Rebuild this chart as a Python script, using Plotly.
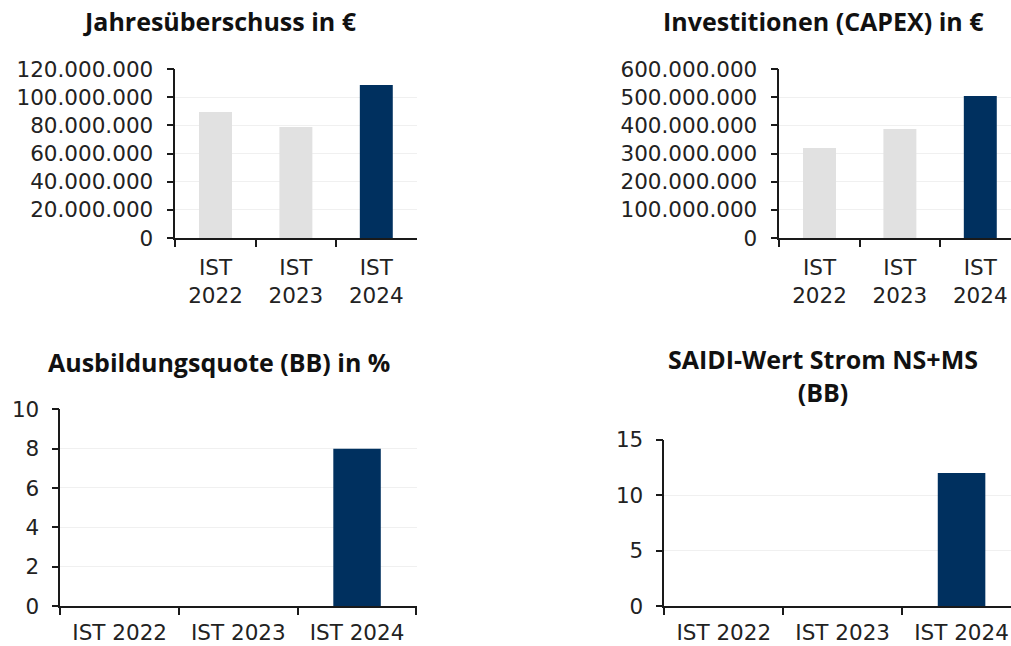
import plotly.graph_objects as go

W, H = 1011, 646

cats_top = ["IST<br>2022", "IST<br>2023", "IST<br>2024"]
cats_bottom = ["IST 2022", "IST 2023", "IST 2024"]

jahresueberschuss = [89.5e6, 78.8e6, 108.6e6]
capex = [319.5e6, 387e6, 504e6]
ausbildungsquote = [None, None, 8]
saidi = [None, None, 12]

titles = ["Jahresüberschuss in €", "Investitionen (CAPEX) in €",
          "Ausbildungsquote (BB) in %", "SAIDI-Wert Strom NS+MS<br>(BB)"]

LIGHT = "#E1E1E1"
DARK = "#00305F"
bar_colors = [LIGHT, LIGHT, DARK]

TICKFONT = dict(family="DejaVu Sans", size=21.5, color="#222222")
TITLEFONT = dict(family="Open Sans", size=25, color="#111111")


def px(x):
    return x / W


def py(y):
    return 1 - y / H


fig = go.Figure()

panels = [
    dict(x0=175.3, x1=416.5, y0=69, y1=238, cats=cats_top, vals=jahresueberschuss,
         bw=0.41, yr=[0, 120e6], dt=20e6, cw=80.4, ystand=9, xstand=9),
    dict(x0=779.3, x1=W, y0=69, y1=238, cats=cats_top, vals=capex,
         bw=0.41, yr=[0, 600e6], dt=100e6, cw=80.4, ystand=9, xstand=9),
    dict(x0=60.3, x1=416.5, y0=409.3, y1=606, cats=cats_bottom, vals=ausbildungsquote,
         bw=0.40, yr=[0, 10], dt=2, cw=118.7, ystand=8, xstand=6),
    dict(x0=664.3, x1=W, y0=439.7, y1=606.3, cats=cats_bottom, vals=saidi,
         bw=0.40, yr=[0, 15], dt=5, cw=118.9, ystand=8, xstand=6),
]

for i, p in enumerate(panels):
    n = "" if i == 0 else str(i + 1)
    fig.add_trace(go.Bar(
        x=p["cats"], y=p["vals"], width=p["bw"],
        marker=dict(color=bar_colors, line=dict(width=0)),
        xaxis="x" + n, yaxis="y" + n, showlegend=False, hoverinfo="skip",
    ))
    xend = -0.5 + (p["x1"] - p["x0"]) / p["cw"]
    fig.layout["xaxis" + n] = dict(
        domain=[px(p["x0"]), min(1.0, px(p["x1"]))],
        anchor="y" + n, type="category", automargin=False,
        range=[-0.5, xend],
        showline=True, linecolor="#1a1a1a", linewidth=1.5,
        ticks="outside", tickson="boundaries", ticklen=7, tickwidth=1.5, tickcolor="#1a1a1a",
        tickfont=TICKFONT, ticklabelstandoff=p["xstand"],
        showgrid=False, zeroline=False, fixedrange=True,
    )
    fig.layout["yaxis" + n] = dict(
        domain=[py(p["y1"]), py(p["y0"])],
        anchor="x" + n, range=p["yr"], dtick=p["dt"], tick0=0, automargin=False,
        showline=True, linecolor="#1a1a1a", linewidth=1.5,
        ticks="outside", ticklen=7, tickwidth=1.5, tickcolor="#1a1a1a",
        tickfont=TICKFONT, tickformat=",d", ticklabelstandoff=p["ystand"],
        showgrid=True, gridcolor="#F0F0F0", gridwidth=1,
        zeroline=False, fixedrange=True,
    )

title_pos = [(219.5, 21), (823, 21), (219, 362), (823, 376)]
for t, (tx, ty) in zip(titles, title_pos):
    fig.add_annotation(
        text="<b>" + t + "</b>", x=px(tx), y=py(ty), xref="paper", yref="paper",
        xanchor="center", yanchor="middle", showarrow=False, font=TITLEFONT,
    )

fig.update_layout(
    width=W, height=H, margin=dict(l=0, r=0, t=0, b=0, autoexpand=False),
    paper_bgcolor="white", plot_bgcolor="white",
    separators=",.", bargap=0.6,
)

fig.write_html(
    "out.html",
    config={"displayModeBar": False},
    post_script="document.body.style.margin='0px';document.body.style.overflow='hidden';",
)
